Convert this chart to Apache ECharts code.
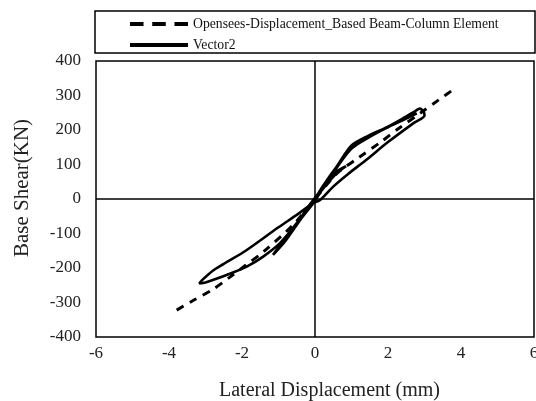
<!DOCTYPE html>
<html><head><meta charset="utf-8">
<script src="https://cdn.jsdelivr.net/npm/echarts@6/dist/echarts.min.js"></script>
<style>html,body{margin:0;padding:0;background:#fff}#c{width:536px;height:401px}</style>
</head><body><div id="c"></div>
<script>
var seriesNames = ['Opensees-Displacement_Based Beam-Column Element', 'Vector2'];
var xTicks = [-6, -4, -2, 0, 2, 4, 6];
var yTicks = [-400, -300, -200, -100, 0, 100, 200, 300, 400];
var openseesDisp = [-3.79, -3.35, -2.8, -2.35, -1.9, -1.4, -0.6, 0, 0.6, 1.2, 1.8, 2.3, 2.9, 3.4, 3.88];
var openseesShear = [-322, -295, -262, -228, -192, -152, -75, 0, 74, 120, 165, 205, 250, 288, 324];
var vectorDisp = [0, 0.3, 0.6, 0.85, 0.6, 0.3, 0, -0.5, -1.15, -0.8, -0.4, 0,
  0.3, 0.6, 1.0, 1.4, 2.0, 2.4, 2.75, 2.87, 2.98, 3.0, 2.7, 2.0, 1.4, 0.9, 0.5, 0.14,
  -0.05, -0.5, -1.0, -1.9, -2.5, -2.8, -3.1, -3.17, -3.0, -2.8, -2.3, -1.87, -1.42, -0.96, -0.5, -0.05,
  0.3, 0.96, 1.5, 2.0, 2.4, 2.79];
var vectorShear = [0, 50, 80, 95, 75, 40, 0, -70, -162, -120, -60, -5,
  50, 95, 155, 180, 210, 233, 255, 262, 252, 242, 220, 165, 113, 72, 36, -3,
  -12, -46, -82, -150, -188, -208, -236, -245, -242, -235, -215, -196, -167, -128, -70, -3,
  45, 142, 180, 208, 228, 248];

function pairs(xs, ys) { return xs.map(function (x, i) { return [x, ys[i]]; }); }
var font = 'Liberation Serif';
var dashIcon = 'path://M0,0h14v4h-14z M23,0h14v4h-14z M46,0h14v4h-14z';
var solidIcon = 'path://M0,0h60v4h-60z';
var chart = echarts.init(document.getElementById('c'));
chart.setOption({
  animation: false,
  backgroundColor: '#fff',
  grid: { left: 96, top: 61, right: 2, bottom: 64, show: true, borderColor: '#000', borderWidth: 1.5,
    outerBoundsMode: 'none', containLabel: false },
  graphic: [{ type: 'rect', shape: { x: 95, y: 11, width: 440, height: 42 },
    style: { fill: 'none', stroke: '#000', lineWidth: 1.5 } }],
  legend: {
    left: 125, top: 11, orient: 'vertical', itemGap: 5, itemWidth: 58, itemHeight: 4,
    textStyle: { fontFamily: font, fontSize: 13.7, color: '#111', lineHeight: 16 },
    data: [{ name: seriesNames[0], icon: dashIcon }, { name: seriesNames[1], icon: solidIcon }]
  },
  xAxis: {
    type: 'value', min: -6, max: 6, interval: 2,
    axisLine: { show: false, onZero: false }, axisTick: { show: false }, splitLine: { show: false },
    axisLabel: { fontFamily: font, fontSize: 17, color: '#222', margin: 8, showMaxLabel: true },
    name: 'Lateral Displacement (mm)', nameLocation: 'middle', nameGap: 44,
    nameTextStyle: { fontFamily: font, fontSize: 20, color: '#222', padding: [0, 0, 0, 29] }
  },
  yAxis: {
    type: 'value', min: -400, max: 400, interval: 100,
    axisLine: { show: false, onZero: false }, axisTick: { show: false }, splitLine: { show: false },
    axisLabel: { fontFamily: font, fontSize: 17, color: '#222', margin: 15 },
    name: 'Base Shear(KN)', nameLocation: 'middle', nameGap: 63,
    nameTextStyle: { fontFamily: font, fontSize: 21, color: '#222', padding: [0, 0, 0, 22] }
  },
  series: [
    {
      name: seriesNames[0], type: 'line', data: pairs(openseesDisp, openseesShear), symbol: 'none', smooth: 0.3,
      lineStyle: { color: '#000', width: 3, type: [8, 7] }, itemStyle: { color: '#000' },
      markLine: { silent: true, symbol: 'none', label: { show: false },
        lineStyle: { color: '#000', width: 1.5, type: 'solid' },
        data: [{ xAxis: 0 }, { yAxis: 0 }] }
    },
    {
      name: seriesNames[1], type: 'line', data: pairs(vectorDisp, vectorShear), symbol: 'none', smooth: 0.3,
      lineStyle: { color: '#000', width: 2.6 }, itemStyle: { color: '#000' }
    }
  ]
});
</script></body></html>
